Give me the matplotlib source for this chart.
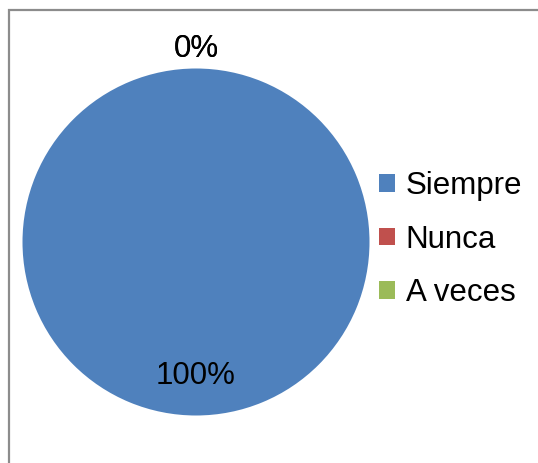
import matplotlib.pyplot as plt
from matplotlib.patches import Rectangle

plt.rcParams['font.family'] = ['Liberation Sans', 'DejaVu Sans']

categorias = ['Siempre', 'Nunca', 'A veces']
valores = [100, 0, 0]
colores = ['#4F81BD', '#C0504D', '#9BBB59']

W, H = 538, 463
fig = plt.figure(figsize=(W / 100, H / 100), dpi=100)

# marco gris del grafico (se sale por la derecha y abajo)
fig.patches.append(Rectangle((8.5 / W, -0.05), 1.1, 1 - 9.5 / H + 0.05,
                             transform=fig.transFigure, fill=False,
                             edgecolor='#8c8c8c', linewidth=1.6))

cx, cy, r = 196, 242, 173.5
ax = fig.add_axes([(cx - r) / W, (H - cy - r) / H, 2 * r / W, 2 * r / H])

wedges, texts, autotexts = ax.pie(valores, colors=colores, startangle=90,
                                  counterclock=False, autopct='%1.0f%%',
                                  pctdistance=0.77,
                                  wedgeprops=dict(linewidth=0),
                                  textprops=dict(fontsize=22.5, color='black'))
# las etiquetas de 0% van fuera del circulo
for v, t in zip(valores, autotexts):
    if v == 0:
        x, y = t.get_position()
        t.set_position((x / 0.77 * 1.11, y / 0.77 * 1.11))
ax.set_xlim(-1, 1)
ax.set_ylim(-1, 1)
ax.set_aspect('equal')

fig.legend(wedges, categorias, loc='center left',
           bbox_to_anchor=(379 / W, 1 - 239.5 / H), frameon=False,
           fontsize=22.5, handlelength=0.5, handleheight=0.5,
           handletextpad=0.35, labelspacing=0.75, borderpad=0,
           borderaxespad=0)

fig.savefig('out.png', dpi=100)
